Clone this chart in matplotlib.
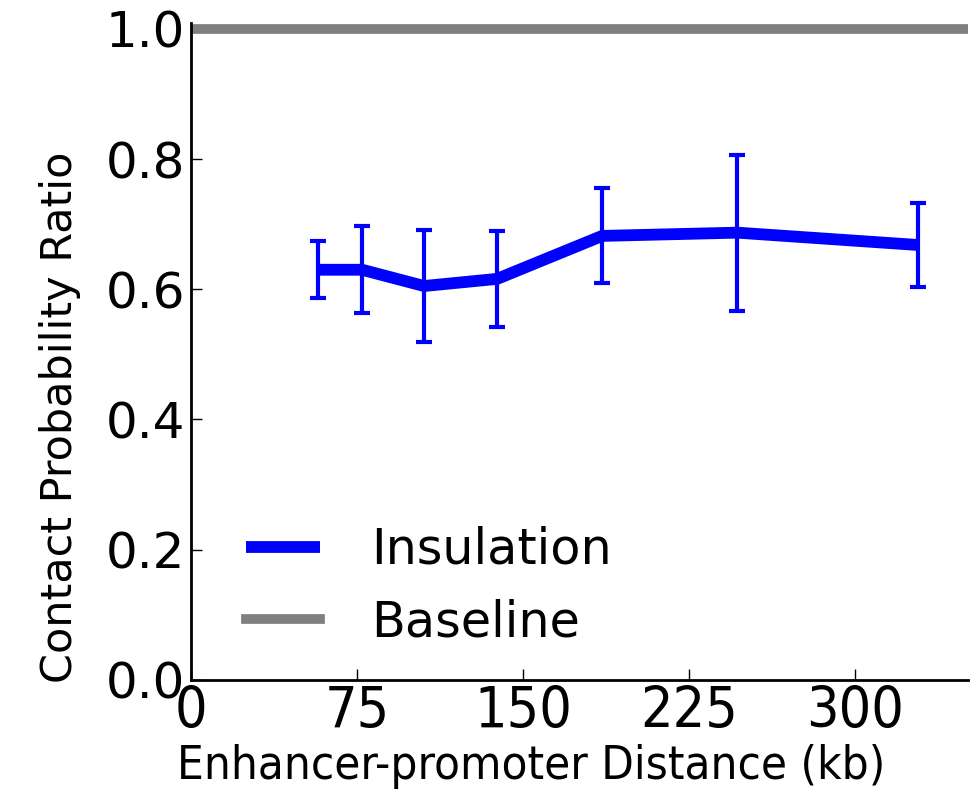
import matplotlib
matplotlib.use('Agg')
import matplotlib.pyplot as plt

# values
distance_kb = [57.4, 77.3, 105.3, 138.3, 185.7, 246.7, 328.5]
ratio = [0.630, 0.630, 0.605, 0.616, 0.682, 0.687, 0.668]
ratio_err = [0.044, 0.067, 0.086, 0.074, 0.073, 0.120, 0.064]
baseline = 1.0

x_ticks = [0, 75, 150, 225, 300]
y_ticks = [0.0, 0.2, 0.4, 0.6, 0.8, 1.0]

plt.rcParams['font.family'] = 'DejaVu Sans'

fig = plt.figure(figsize=(9.74, 7.96), dpi=100)
ax = fig.add_axes([0.196, 0.146, 0.798, 0.825])

ax.plot(distance_kb, ratio, color='#0000ff', linewidth=8.5, label='Insulation',
        solid_capstyle='butt', zorder=3)
ax.errorbar(distance_kb, ratio, yerr=ratio_err, fmt='none', ecolor='#0000ff',
            elinewidth=3, capsize=6, capthick=3, zorder=3)
ax.axhline(baseline, color='#808080', linewidth=7, label='Baseline', zorder=2)

ax.set_xlim(0, 351)
ax.set_ylim(0, 1.009)
ax.set_xticks(x_ticks)
ax.set_yticks(y_ticks)
ax.set_yticklabels(['%.1f' % v for v in y_ticks])

for s in ['top', 'right']:
    ax.spines[s].set_visible(False)
for s in ['left', 'bottom']:
    ax.spines[s].set_linewidth(2)

ax.tick_params(axis='both', direction='in', length=8, width=1)
ax.tick_params(axis='y', pad=4, labelsize=36)
ax.tick_params(axis='x', pad=4)
ax.xaxis.set_ticks_position('bottom')
ax.yaxis.set_ticks_position('left')

for lab in ax.get_xticklabels():
    lab.set_fontsize(41)
    lab.set_fontstretch('condensed')

ax.set_xlabel('Enhancer-promoter Distance (kb)', fontsize=34, fontstretch='condensed')
ax.xaxis.set_label_coords(0.4376, -0.098)
ax.set_ylabel('Contact Probability Ratio', fontsize=31)
ax.yaxis.set_label_coords(-0.142, 0.40)

leg = ax.legend(loc='lower left', bbox_to_anchor=(0.0136, -0.017), frameon=False,
                fontsize=35.5, handlelength=1.5, handletextpad=1.05,
                labelspacing=0.5)

fig.savefig('out.png', dpi=100)
